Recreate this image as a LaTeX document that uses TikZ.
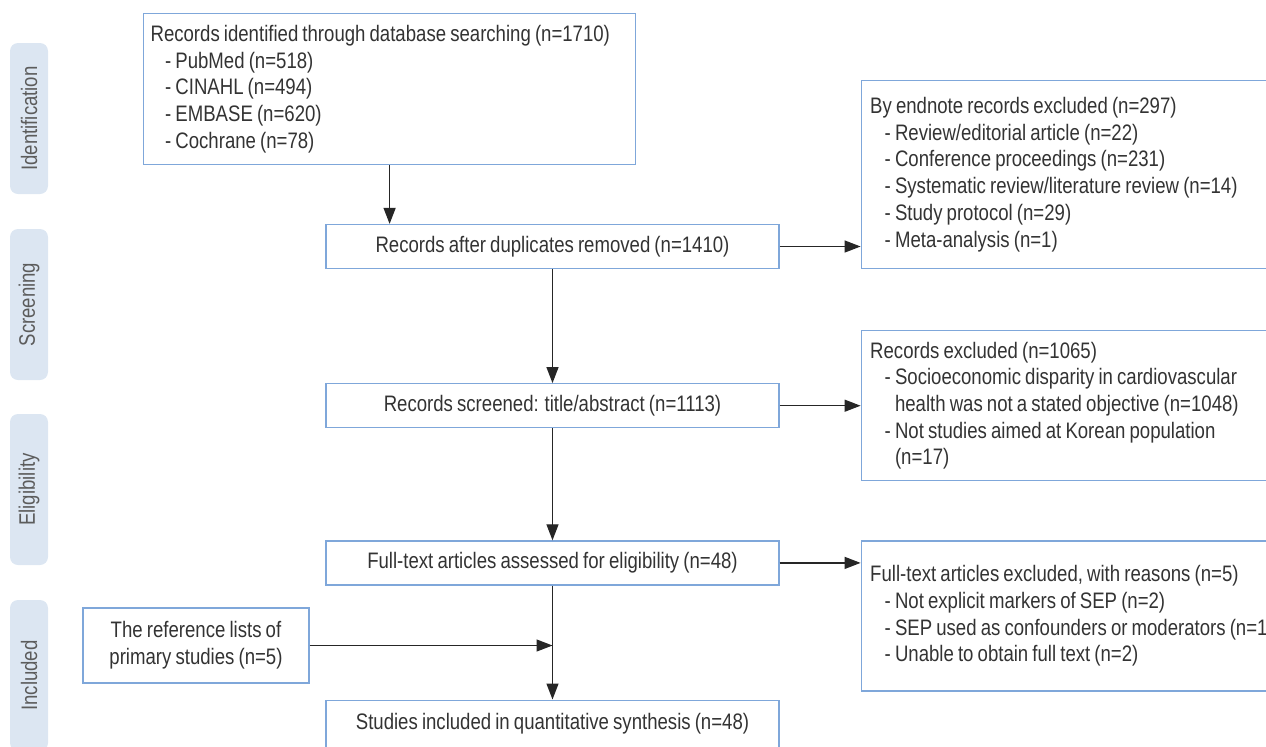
\documentclass[tikz,border=0pt]{standalone}
\usepackage{fontspec}
\setmainfont{Liberation Sans}[FakeStretch=0.83, WordSpace=0.8]
\usetikzlibrary{arrows.meta, positioning}
\definecolor{boxblue}{HTML}{7FA7DA}
\definecolor{stagefill}{HTML}{DCE6F2}
\definecolor{txtgray}{HTML}{333333}
\newcommand{\bul}[1]{\hspace*{7.25pt}- #1}
\newcommand{\cont}[1]{\hspace*{7.25pt}\phantom{- }#1}

\begin{document}
\begin{tikzpicture}[
    x=0.5pt, y=-0.5pt,
    node distance = 57pt and 40.5pt,
    font=\fontsize{11.2}{13.35}\selectfont,
    punkt/.style = {rectangle, draw=boxblue, line width=0.6pt, text=txtgray,
      inner sep=0pt, minimum width=226.5pt, minimum height=22pt},
    identbox/.style = {punkt, align=flush left, inner xsep=3.5pt, text width=239pt, minimum height=75.5pt},
    exbox/.style = {punkt, align=flush left, inner xsep=4.5pt, text width=230pt},
    stage/.style = {rectangle, rounded corners=4pt, fill=stagefill, text=txtgray!80,
      rotate=90, inner sep=0pt, minimum width=75.5pt, minimum height=19pt},
    pil/.style = {black!85, line width=0.65pt, -{Triangle[length=8pt, width=6pt]}}
    ]
  \useasboundingbox (0,0) rectangle (1266,746);

  % stages
  \node[stage] (s1) at (29,118.5) {Identification};
  \node[stage] (s2) at (29,304.5) {Screening};
  \node[stage] (s3) at (29,489.5) {Eligibility};
  \node[stage] (s4) at (29,675.5) {Included};

  % main column
  \node[identbox, anchor=south west] (ident) at (143,165) {Records identified through database searching (n=1710)\\
    \bul{PubMed (n=518)}\\ \bul{CINAHL (n=494)}\\ \bul{EMBASE (n=620)}\\ \bul{Cochrane (n=78)}};
  \node[punkt] (dup) at (552.5,246.5) {Records after duplicates removed (n=1410)};
  \node[punkt] (scr) [below=of dup] {Records screened: title/abstract (n=1113)};
  \node[punkt] (elig) [below=56pt of scr] {Full-text articles assessed for eligibility (n=48)};
  \node[punkt, minimum height=24pt] (incl) [below=of elig] {Studies included in quantitative synthesis (n=48)};
  \node[punkt, align=center, minimum width=113pt, minimum height=37.5pt] (ref) at (196,645.5)
    {The reference lists of\\primary studies (n=5)};

  % exclusions
  \node[exbox, minimum height=94pt, right=40.5pt of dup.south east, anchor=south west] (endn)
    {By endnote records excluded (n=297)\\ \bul{Review/editorial article (n=22)}\\
     \bul{Conference proceedings (n=231)}\\ \bul{Systematic review/literature review (n=14)}\\
     \bul{Study protocol (n=29)}\\ \bul{Meta-analysis (n=1)}};
  \node[exbox, minimum height=75pt] (recex) [right=of scr]
    {Records excluded (n=1065)\\ \bul{Socioeconomic disparity in cardiovascular}\\
     \cont{health was not a stated objective (n=1048)}\\ \bul{Not studies aimed at Korean population}\\
     \cont{(n=17)}};
  \node[exbox, minimum height=75pt, right=40.5pt of elig.north east, anchor=north west] (ftex)
    {Full-text articles excluded, with reasons (n=5)\\ \bul{Not explicit markers of SEP (n=2)}\\
     \bul{SEP used as confounders or moderators (n=1)}\\ \bul{Unable to obtain full text (n=2)}};

  \draw[pil]
  (dup) edge (scr)
  (scr) edge (elig)
  (elig) edge (incl);

  \draw[pil] (ident.south) -- (ident.south |- dup.north);
  \draw[pil] (dup.east) -- (dup.east -| endn.west);
  \draw[pil] (scr.east) -- (scr.east -| recex.west);
  \draw[pil] (elig.east) -- (elig.east -| ftex.west);
  \draw[pil] (ref.east) -- (ref.east -| elig.south);

\end{tikzpicture}
\end{document}
